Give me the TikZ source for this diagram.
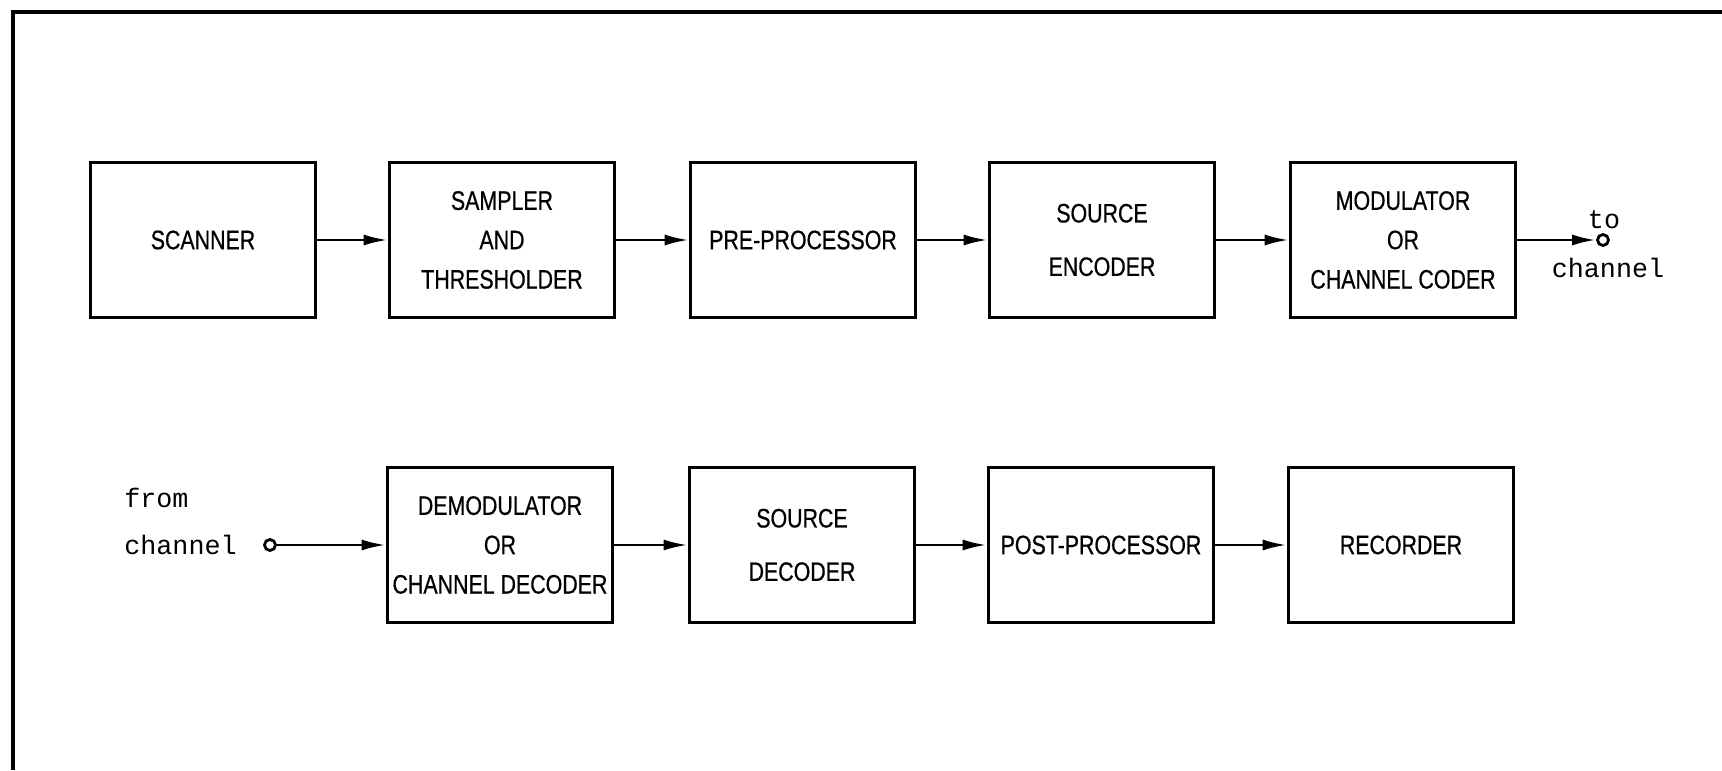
\documentclass[tikz,border=0pt]{standalone}
\usepackage{fontspec}
\newfontfamily\boxfont{Liberation Sans}[FakeStretch=0.8, FakeBold=0.6]
\setmonofont{Liberation Mono}
\usetikzlibrary{arrows.meta}

\begin{document}
\begin{tikzpicture}[x=1cm, y=1cm, line width=0.8pt,
	blk/.style={draw, line width=1pt, minimum width=2.25cm, minimum height=1.55cm, align=center, inner sep=1pt, font={\boxfont\fontsize{7.6}{11.2}\selectfont}},
	term/.style={draw, circle, inner sep=0pt, minimum size=0.11cm, line width=0.8pt},
	lbl/.style={font={\ttfamily\fontsize{7.6}{9}\selectfont}, inner sep=0pt},
	>={Latex[length=2.4mm, width=1.1mm]}]
	\useasboundingbox (0,0) rectangle (17.22,7.70);
	\draw[line width=1.3pt] (0.13,0) -- (0.13,7.58) -- (17.22,7.58);
	% transmitter
	\node[blk] (scanner) at (2.03,5.30) {SCANNER};
	\node[blk] (sampler) at (5.02,5.30) {SAMPLER\\AND\\THRESHOLDER};
	\node[blk] (preproc) at (8.03,5.30) {PRE-PROCESSOR};
	\node[blk] (srcenc) at (11.02,5.30) {SOURCE\\[4pt]ENCODER};
	\node[blk] (modulator) at (14.03,5.30) {MODULATOR\\OR\\CHANNEL CODER};
	\node[term] (tochan) at (16.03,5.30) {};
	\node[lbl] (tolbl) at (16.04,5.50) {to};
	\node[lbl] (tochanlbl) at (16.08,5.02) {channel};
	\draw[->] (scanner) -- (sampler);
	\draw[->] (sampler) -- (preproc);
	\draw[->] (preproc) -- (srcenc);
	\draw[->] (srcenc) -- (modulator);
	\draw[->] (modulator) -- (tochan);
	% receiver
	\node[lbl, anchor=west] (fromlbl) at (1.23,2.72) {from};
	\node[lbl, anchor=west] (fromchanlbl) at (1.23,2.25) {channel};
	\node[term] (fromchan) at (2.70,2.25) {};
	\node[blk] (demod) at (5.00,2.25) {DEMODULATOR\\OR\\CHANNEL DECODER};
	\node[blk] (srcdec) at (8.02,2.25) {SOURCE\\[4pt]DECODER};
	\node[blk] (postproc) at (11.01,2.25) {POST-PROCESSOR};
	\node[blk] (recorder) at (14.01,2.25) {RECORDER};
	\draw[->] (fromchan) -- (demod);
	\draw[->] (demod) -- (srcdec);
	\draw[->] (srcdec) -- (postproc);
	\draw[->] (postproc) -- (recorder);
\end{tikzpicture}
\end{document}
